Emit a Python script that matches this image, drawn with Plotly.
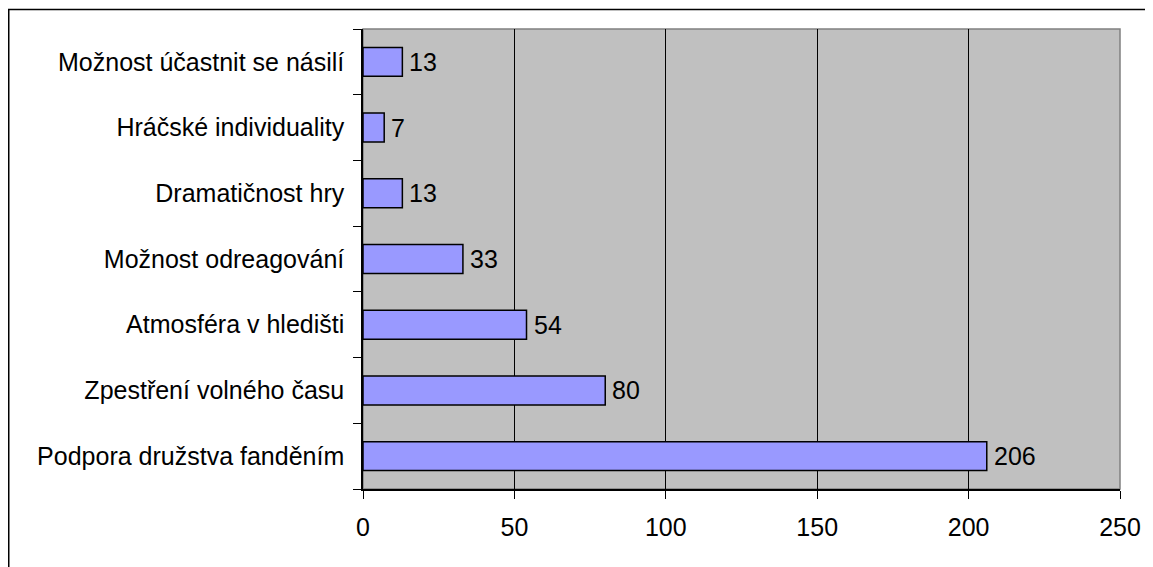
import plotly.graph_objects as go

categories = [
    "Možnost účastnit se násilí",
    "Hráčské individuality",
    "Dramatičnost hry",
    "Možnost odreagování",
    "Atmosféra v hledišti",
    "Zpestření volného času",
    "Podpora družstva fanděním",
]
values = [13, 7, 13, 33, 54, 80, 206]
x_ticks = [0, 50, 100, 150, 200, 250]

FONT = "Liberation Sans, Arial, sans-serif"
FS = 25
W, H = 1153, 567
OFF = 8  # page body offset
L, R, T, B = 363 - OFF, 33 + OFF, 29 - OFF, 78 + OFF
pw, ph = W - L - R, H - T - B

fig = go.Figure(go.Bar(
    x=values, y=categories, orientation="h",
    marker=dict(color="#9999FF", line=dict(color="#000000", width=1.5)),
    width=0.44, hoverinfo="skip",
))

for c, v in zip(categories, values):
    fig.add_annotation(x=v, y=c, text=str(v), showarrow=False, xanchor="left",
                       xshift=5, font=dict(family=FONT, size=FS, color="#000"))

fig.update_layout(
    width=W, height=H,
    margin=dict(l=L, r=R, t=T, b=B),
    paper_bgcolor="white", plot_bgcolor="#C0C0C0",
    font=dict(family=FONT, size=FS, color="#000"),
    showlegend=False,
    xaxis=dict(range=[0, 250], tickvals=x_ticks, showgrid=True, gridcolor="#000",
               gridwidth=1, zeroline=False, showline=True, linecolor="#000",
               linewidth=1.5, ticks="outside", ticklen=8, tickcolor="#000",
               ticklabelstandoff=7, tickfont=dict(size=FS)),
    yaxis=dict(categoryorder="array", categoryarray=categories[::-1],
               autorange=True, showgrid=False, zeroline=False, showline=True,
               linecolor="#000", linewidth=1.5, ticks="outside", ticklen=8,
               tickcolor="#000", tickson="boundaries", ticklabelstandoff=12,
               tickfont=dict(size=FS)),
    shapes=[
        dict(type="rect", xref="paper", yref="paper", x0=0, x1=1, y0=0, y1=1,
             line=dict(color="#808080", width=1.5), layer="below"),
        dict(type="rect", xref="paper", yref="paper",
             x0=(0.75 - L) / pw, x1=(W + 10 - L) / pw,
             y0=-(H + 10 - T - ph) / ph, y1=(ph + T - 1.5) / ph,
             line=dict(color="#000", width=1.5)),
    ],
)

fig.write_html("out.html")
